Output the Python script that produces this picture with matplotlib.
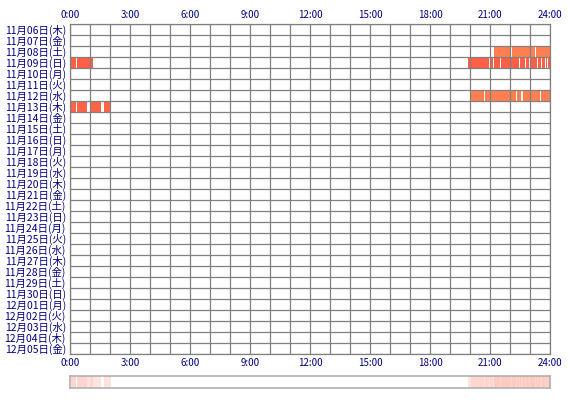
import matplotlib.pyplot as plt
import numpy as np

plt.rcParams['font.family'] = ['Noto Sans CJK JP', 'DejaVu Sans']

day_labels = [
    "11月06日(木)", "11月07日(金)", "11月08日(土)", "11月09日(日)", "11月10日(月)",
    "11月11日(火)", "11月12日(水)", "11月13日(木)", "11月14日(金)", "11月15日(土)",
    "11月16日(日)", "11月17日(月)", "11月18日(火)", "11月19日(水)", "11月20日(木)",
    "11月21日(金)", "11月22日(土)", "11月23日(日)", "11月24日(月)", "11月25日(火)",
    "11月26日(水)", "11月27日(木)", "11月28日(金)", "11月29日(土)", "11月30日(日)",
    "12月01日(月)", "12月02日(火)", "12月03日(水)", "12月04日(木)", "12月05日(金)",
]
hour_ticks = [0, 3, 6, 9, 12, 15, 18, 21, 24]
hour_labels = ["0:00", "3:00", "6:00", "9:00", "12:00", "15:00", "18:00", "21:00", "24:00"]

# active periods (start hour, end hour) per day
act_1108 = [(21.2, 22.05), (22.12, 23.25), (23.32, 24.0)]
act_1109 = [(0.03, 0.3), (0.37, 1.13),
            (19.88, 20.95), (21.0, 21.15), (21.2, 21.48), (21.53, 22.45),
            (22.5, 22.73), (22.78, 22.95), (23.0, 23.35), (23.4, 23.57),
            (23.62, 23.77), (23.82, 23.85), (23.9, 24.0)]
act_1112 = [(20.05, 20.68), (20.76, 22.3), (22.37, 22.55), (22.65, 23.48), (23.53, 24.0)]
act_1113 = [(0.05, 0.28), (0.37, 0.87), (1.0, 1.53), (1.7, 2.05)]

activity = {
    "11月08日(土)": (act_1108, "#ff7f50"),
    "11月09日(日)": (act_1109, "#ff5f45"),
    "11月12日(水)": (act_1112, "#ff7f50"),
    "11月13日(木)": (act_1113, "#ff6347"),
}

navy = "#000080"
grid_c = "#808080"
n = len(day_labels)

fig = plt.figure(figsize=(5.7, 4.0), dpi=100)
ax = fig.add_axes([70 / 570, 1 - 354 / 400, 480 / 570, 330 / 400])

for label, (segs, col) in activity.items():
    row = day_labels.index(label)
    ax.broken_barh([(s, e - s) for s, e in segs], (row, 1), facecolor=col,
                   edgecolor="none", zorder=1)

for h in range(25):
    ax.axvline(h, color=grid_c, lw=0.9, zorder=2)
for r in range(n + 1):
    ax.axhline(r, color=grid_c, lw=0.9, zorder=2)

ax.set_xlim(0, 24)
ax.set_ylim(n, 0)
ax.set_xticks(hour_ticks)
ax.set_xticklabels(hour_labels)
ax.set_yticks(np.arange(n) + 0.5)
ax.set_yticklabels(day_labels)
ax.tick_params(axis="x", length=0, labeltop=True, labelbottom=True, labelsize=7,
               labelcolor=navy, pad=3)
ax.tick_params(axis="y", length=0, labelsize=7.5, labelcolor=navy, pad=3)
for sp in ax.spines.values():
    sp.set_color(grid_c)
    sp.set_linewidth(0.9)

# summary strip: how many days were active at each minute
minutes = np.zeros(1440)
for segs, col in activity.values():
    for s, e in segs:
        minutes[int(round(s * 60)):int(round(e * 60))] += 1

sx = fig.add_axes([70 / 570, 1 - 388 / 400, 480 / 570, 12 / 400])
rgba = np.zeros((1, 1440, 4))
rgba[..., :3] = np.array([255, 99, 71]) / 255
rgba[0, :, 3] = np.where(minutes > 0, 0.1 + 0.08 * minutes, 0)
sx.imshow(rgba, aspect="auto", extent=(0, 24, 0, 1), interpolation="nearest")
sx.set_xlim(0, 24)
sx.set_xticks([])
sx.set_yticks([])
for sp in sx.spines.values():
    sp.set_color("#b0b0b0")
    sp.set_linewidth(1.2)

fig.savefig("out.png", dpi=100)
